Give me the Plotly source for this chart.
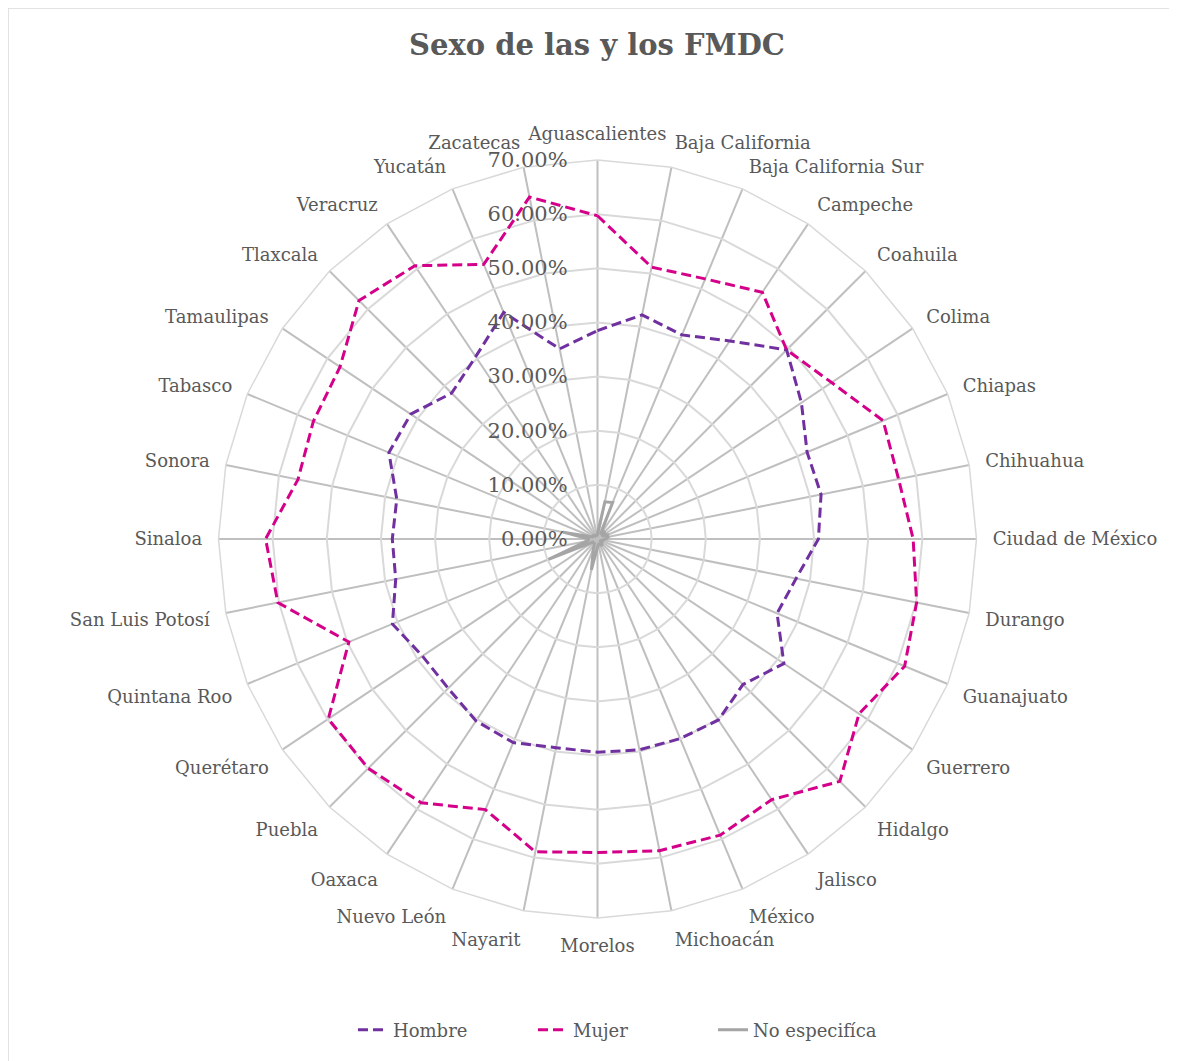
import plotly.graph_objects as go

estados = [
    "Aguascalientes", "Baja California", "Baja California Sur", "Campeche",
    "Coahuila", "Colima", "Chiapas", "Chihuahua", "Ciudad de México",
    "Durango", "Guanajuato", "Guerrero", "Hidalgo", "Jalisco", "México",
    "Michoacán", "Morelos", "Nayarit", "Nuevo León", "Oaxaca", "Puebla",
    "Querétaro", "Quintana Roo", "San Luis Potosí", "Sinaloa", "Sonora",
    "Tabasco", "Tamaulipas", "Tlaxcala", "Veracruz", "Yucatán", "Zacatecas",
]

# porcentajes
hombre = [38.5, 42.2, 40.8, 44.0, 49.4, 45.3, 41.9, 42.1, 40.8, 37.4, 35.9,
          41.4, 38.0, 40.2, 39.9, 39.7, 39.4, 39.3, 40.7, 40.4, 39.0, 38.9,
          41.0, 38.0, 37.9, 37.8, 41.7, 41.5, 38.1, 40.5, 45.3, 35.8]
mujer = [59.7, 51.2, 52.0, 54.8, 49.4, 52.0, 57.1, 56.7, 58.3, 60.1, 61.4,
         58.1, 63.3, 57.9, 59.2, 58.7, 57.9, 58.9, 54.1, 58.6, 59.9, 59.8,
         49.7, 60.2, 61.3, 56.4, 56.8, 57.2, 62.3, 60.7, 54.9, 64.4]
no_especifica = [1.0, 7.0, 7.3, 1.0, 2.0, 1.0, 2.0, 2.0, 1.5, 1.0, 1.0,
                 0.5, 1.0, 1.5, 1.0, 1.0, 1.5, 5.8, 2.0, 1.0, 1.0, 1.0,
                 9.8, 2.0, 1.5, 6.5, 1.0, 1.0, 1.0, 0.5, 1.0, 0.5]

FONT = "Georgia, 'DejaVu Serif', serif"
GRIS_TEXTO = "#595959"

series = [
    ("Hombre", hombre, "#7030A0", "10px,5px"),
    ("Mujer", mujer, "#D5008A", "10px,5px"),
    ("No especifíca", no_especifica, "#A5A5A5", "solid"),
]

fig = go.Figure()
for nombre, valores, color, dash in series:
    r = [v / 100 for v in valores]
    fig.add_trace(go.Scatterpolar(
        r=r + r[:1],
        theta=estados + estados[:1],
        mode="lines",
        name=nombre,
        line=dict(color=color, width=3, dash=dash),
    ))

W, H = 1177, 1061
OFF = 8  # margen del <body> en la página
cx, cy, R = 597.5 - OFF, 539 - OFF, 379

fig.update_layout(
    width=W,
    height=H,
    margin=dict(l=0, r=0, t=0, b=0),
    paper_bgcolor="white",
    font=dict(family=FONT, color=GRIS_TEXTO, size=18),
    title=dict(
        text="<b>Sexo de las y los FMDC</b>",
        x=(597 - OFF) / W, xanchor="center", y=1 - (45 - OFF) / H, yanchor="middle",
        font=dict(family=FONT, size=29, color=GRIS_TEXTO),
    ),
    polar=dict(
        domain=dict(x=[(cx - R) / W, (cx + R) / W],
                    y=[1 - (cy + R) / H, 1 - (cy - R) / H]),
        gridshape="linear",
        bgcolor="white",
        angularaxis=dict(
            rotation=90,
            direction="clockwise",
            gridcolor="#BFBFBF",
            gridwidth=1.5,
            linecolor="#D9D9D9",
            linewidth=1.5,
            showline=True,
            ticks="outside",
            ticklen=12,
            tickcolor="rgba(0,0,0,0)",
            tickfont=dict(family=FONT, size=18, color=GRIS_TEXTO),
        ),
        radialaxis=dict(
            range=[0, 0.7],
            dtick=0.1,
            tickformat=".2%",
            angle=90,
            tickangle=90,
            side="counterclockwise",
            showline=False,
            ticks="outside",
            ticklen=22,
            tickcolor="rgba(0,0,0,0)",
            gridcolor="#D9D9D9",
            gridwidth=1.5,
            tickfont=dict(family=FONT, size=21, color=GRIS_TEXTO),
        ),
    ),
    legend=dict(
        orientation="h",
        x=(353 - OFF) / W, xanchor="left",
        y=1 - (1030 - OFF) / H, yanchor="middle",
        font=dict(family=FONT, size=18, color=GRIS_TEXTO),
        entrywidth=135,
    ),
    shapes=[dict(
        type="rect", xref="paper", yref="paper",
        x0=0, x1=1.02, y0=-0.02, y1=1,
        line=dict(color="#D9D9D9", width=1.5),
    )],
)

fig.write_html("out.html")
